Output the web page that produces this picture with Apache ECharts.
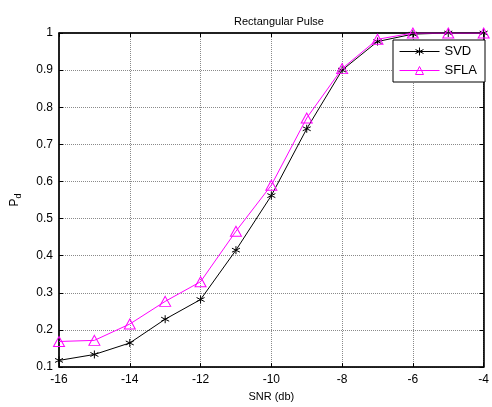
<!DOCTYPE html>
<html>
<head>
<meta charset="utf-8">
<script src="https://cdn.jsdelivr.net/npm/echarts@6/dist/echarts.min.js"></script>
<style>
  html, body { margin: 0; padding: 0; background: #fff; }
  #main { width: 492px; height: 407px; }
</style>
</head>
<body>
<div id="main"></div>
<script>
  // SNR values (db)
  var snr = [-16, -15, -14, -13, -12, -11, -10, -9, -8, -7, -6, -5, -4];
  // detection probability per method
  var svd = [0.118, 0.134, 0.165, 0.229, 0.282, 0.415, 0.562, 0.742, 0.900, 0.977, 0.997, 1.0, 1.0];
  var sfla = [0.169, 0.172, 0.216, 0.277, 0.330, 0.466, 0.590, 0.771, 0.904, 0.983, 1.0, 1.0, 1.0];

  function pairs (xs, ys) {
    return xs.map(function (x, i) { return [x, ys[i]]; });
  }

  var font = 'Liberation Sans';
  var starPath = 'path://M0,-5L0,5M-4.33,-2.5L4.33,2.5M-4.33,2.5L4.33,-2.5';
  var gridLine = { show: true, lineStyle: { color: '#8a8a8a', type: [1, 1], width: 1 } };

  var chart = echarts.init(document.getElementById('main'));
  chart.setOption({
    animation: false,
    backgroundColor: '#fff',
    title: {
      text: 'Rectangular Pulse',
      left: 274,
      top: 11,
      textAlign: 'center',
      textStyle: { fontFamily: font, fontSize: 11, fontWeight: 'normal', color: '#000' }
    },
    legend: {
      orient: 'vertical',
      left: 393,
      top: 40,
      width: 96,
      padding: [5, 8, 5, 6],
      itemWidth: 40,
      itemHeight: 10,
      itemGap: 6,
      backgroundColor: '#fff',
      borderColor: '#000',
      borderWidth: 1,
      lineStyle: { width: 1 },
      itemStyle: { borderWidth: 1 },
      textStyle: { fontFamily: font, fontSize: 13, color: '#000' },
      data: ['SVD', 'SFLA']
    },
    grid: {
      left: 59,
      right: 4,
      top: 33,
      bottom: 35,
      show: true,
      borderColor: '#000',
      borderWidth: 1
    },
    xAxis: [{
      type: 'value',
      min: -16,
      max: -4,
      interval: 2,
      name: 'SNR (db)',
      nameLocation: 'middle',
      nameGap: 23,
      nameTextStyle: { fontFamily: font, fontSize: 11, color: '#000' },
      axisLine: { lineStyle: { color: '#000', width: 1.5 } },
      axisTick: { inside: true, length: 4, lineStyle: { color: '#000' } },
      axisLabel: { fontFamily: font, fontSize: 12, color: '#000', margin: 7 },
      splitLine: gridLine
    }, {
      type: 'value',
      position: 'top',
      min: -16,
      max: -4,
      interval: 2,
      axisLine: { show: true, lineStyle: { color: '#000', width: 1.5 } },
      axisTick: { inside: true, length: 4, lineStyle: { color: '#000' } },
      axisLabel: { show: false },
      splitLine: { show: false }
    }],
    yAxis: [{
      type: 'value',
      min: 0.1,
      max: 1,
      interval: 0.1,
      name: '{p|P}{d|d}',
      nameLocation: 'middle',
      nameGap: 38,
      nameRotate: 90,
      nameTextStyle: {
        fontFamily: font,
        color: '#000',
        rich: {
          p: { fontFamily: font, fontSize: 12, color: '#000' },
          d: { fontFamily: font, fontSize: 9, color: '#000', padding: [0, 0, -8, 0] }
        }
      },
      axisLine: { show: true, lineStyle: { color: '#000', width: 1.5 } },
      axisTick: { show: true, inside: true, length: 4, lineStyle: { color: '#000' } },
      axisLabel: {
        fontFamily: font, fontSize: 12, color: '#000', margin: 6,
        formatter: function (v) { return String(Math.round(v * 10) / 10); }
      },
      splitLine: gridLine
    }, {
      type: 'value',
      position: 'right',
      min: 0.1,
      max: 1,
      interval: 0.1,
      axisLine: { show: true, lineStyle: { color: '#000', width: 1.5 } },
      axisTick: { show: true, inside: true, length: 4, lineStyle: { color: '#000' } },
      axisLabel: { show: false },
      splitLine: { show: false }
    }],
    series: [{
      name: 'SVD',
      type: 'line',
      data: pairs(snr, svd),
      symbol: starPath,
      symbolSize: 8,
      showAllSymbol: true,
      lineStyle: { color: '#000', width: 1 },
      itemStyle: { color: 'none', borderColor: '#000', borderWidth: 1 },
      z: 3
    }, {
      name: 'SFLA',
      type: 'line',
      data: pairs(snr, sfla),
      symbol: 'triangle',
      symbolSize: [11, 10],
      showAllSymbol: true,
      lineStyle: { color: '#ff00ff', width: 1 },
      itemStyle: { color: 'none', borderColor: '#ff00ff', borderWidth: 1 },
      z: 4
    }]
  });
</script>
</body>
</html>
